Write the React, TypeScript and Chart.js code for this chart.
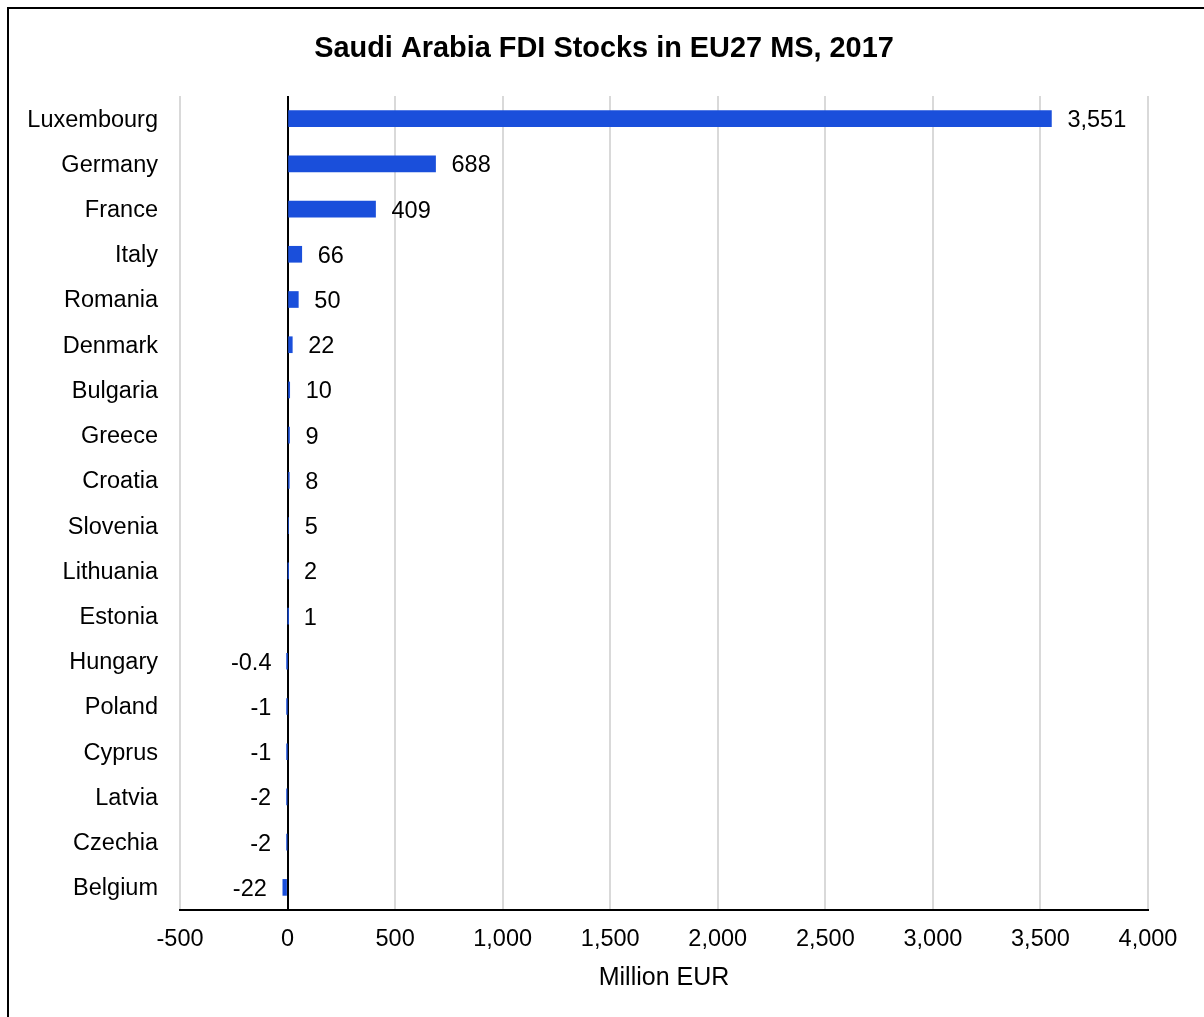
import React, { useEffect, useRef } from 'react';
import { Chart, registerables } from 'chart.js';

Chart.register(...registerables);

const TITLE = 'Saudi Arabia FDI Stocks in EU27 MS, 2017';
const AXIS_TITLE = 'Million EUR';

const countries = [
  'Luxembourg', 'Germany', 'France', 'Italy', 'Romania', 'Denmark',
  'Bulgaria', 'Greece', 'Croatia', 'Slovenia', 'Lithuania', 'Estonia',
  'Hungary', 'Poland', 'Cyprus', 'Latvia', 'Czechia', 'Belgium',
];
const values = [
  3551, 688, 409, 66, 50, 22,
  10, 9, 8, 5, 2, 1,
  -0.4, -1, -1, -2, -2, -22,
];
const X_MIN = -500;
const X_MAX = 4000;
const X_STEP = 500;

const BAR_COLOR = '#1a4fdb';
const FONT = "'Liberation Sans', Arial, sans-serif";

export default function App() {
  const ref = useRef<HTMLCanvasElement>(null);

  useEffect(() => {
    const canvas = ref.current;
    if (!canvas) return;

    const valueLabels = {
      id: 'valueLabels',
      afterDatasetsDraw(chart: any) {
        const c = chart.ctx;
        const meta = chart.getDatasetMeta(0);
        c.save();
        c.font = `23.5px ${FONT}`;
        c.fillStyle = '#000';
        c.textBaseline = 'middle';
        meta.data.forEach((el: any, i: number) => {
          const v = values[i];
          const txt = v.toLocaleString('en-US');
          if (v >= 0) {
            c.textAlign = 'left';
            c.fillText(txt, el.x + 16, el.y + 2);
          } else {
            c.textAlign = 'right';
            c.fillText(txt, el.x - 16, el.y + 2);
          }
        });
        c.restore();
      },
    };

    const customTitle = {
      id: 'customTitle',
      afterDraw(chart: any) {
        const c = chart.ctx;
        c.save();
        c.font = `bold 28.9px ${FONT}`;
        c.fillStyle = '#000';
        c.textAlign = 'center';
        c.textBaseline = 'middle';
        c.fillText(TITLE, 595, 40);
        c.restore();
      },
    };

    const chart = new Chart(canvas, {
      type: 'bar',
      data: {
        labels: countries,
        datasets: [
          {
            data: values,
            backgroundColor: BAR_COLOR,
            borderWidth: 0,
            barThickness: 16,
          },
        ],
      },
      options: {
        indexAxis: 'y',
        responsive: false,
        animation: false,
        devicePixelRatio: 1,
        layout: { padding: { left: 0, right: 77, top: 87, bottom: 42 } },
        plugins: {
          legend: { display: false },
          title: { display: false },
          tooltip: { enabled: false },
        },
        scales: {
          x: {
            type: 'linear',
            min: X_MIN,
            max: X_MAX,
            ticks: {
              stepSize: X_STEP,
              padding: 15,
              color: '#000',
              font: { family: FONT, size: 23.5 },
              maxRotation: 0,
              autoSkip: false,
              callback: (v: any) => Number(v).toLocaleString('en-US'),
            },
            grid: {
              color: (ctx: any) => (ctx.tick && ctx.tick.value === 0 ? '#000' : '#d9d9d9'),
              lineWidth: 2,
              drawTicks: false,
            },
            border: { display: true, color: '#000', width: 2 },
            title: {
              display: true,
              text: AXIS_TITLE,
              color: '#000',
              font: { family: FONT, size: 25 },
              padding: 0,
            },
            afterFit: (s: any) => {
              s.height = 83;
            },
          },
          y: {
            ticks: {
              padding: 22,
              labelOffset: 1.5,
              color: '#000',
              font: { family: FONT, size: 23.5 },
              autoSkip: false,
            },
            grid: { display: false, drawTicks: false },
            border: { display: false },
            afterFit: (s: any) => {
              s.width = 171;
            },
          },
        },
      },
      plugins: [valueLabels, customTitle],
    } as any);

    return () => chart.destroy();
  }, []);

  return (
    <div
      style={{
        position: 'fixed',
        left: 0,
        top: 0,
        width: '100vw',
        height: '100vh',
        overflow: 'hidden',
        background: '#fff',
      }}
    >
      <div
        style={{
          position: 'absolute',
          left: 7,
          top: 7,
          width: 1220,
          height: 1030,
          border: '2px solid #000',
          boxSizing: 'border-box',
          background: '#fff',
        }}
      >
        <canvas ref={ref} width={1216} height={1026} style={{ display: 'block' }} />
      </div>
    </div>
  );
}
